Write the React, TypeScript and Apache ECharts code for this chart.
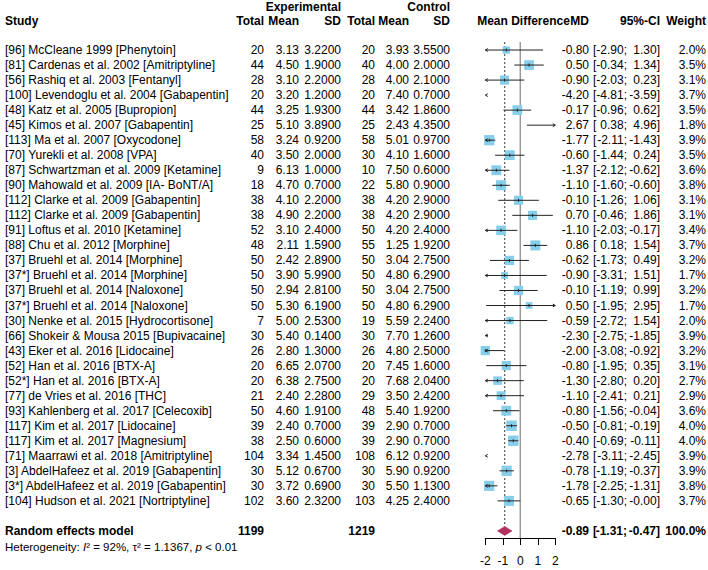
import React, { useEffect, useRef } from "react";
import * as echarts from "echarts";

// ---------------- data ----------------
const studyLabels = [
  "[96] McCleane 1999 [Phenytoin]",
  "[81] Cardenas et al. 2002 [Amitriptyline]",
  "[56] Rashiq et al. 2003 [Fentanyl]",
  "[100] Levendoglu et al. 2004 [Gabapentin]",
  "[48] Katz et al. 2005 [Bupropion]",
  "[45] Kimos et al. 2007 [Gabapentin]",
  "[113] Ma et al. 2007 [Oxycodone]",
  "[70] Yurekli et al. 2008 [VPA]",
  "[87] Schwartzman et al. 2009 [Ketamine]",
  "[90] Mahowald et al. 2009 [IA- BoNT/A]",
  "[112] Clarke et al. 2009 [Gabapentin]",
  "[112] Clarke et al. 2009 [Gabapentin]",
  "[91] Loftus et al. 2010 [Ketamine]",
  "[88] Chu et al. 2012 [Morphine]",
  "[37] Bruehl et al. 2014 [Morphine]",
  "[37*] Bruehl et al. 2014 [Morphine]",
  "[37] Bruehl et al. 2014 [Naloxone]",
  "[37*] Bruehl et al. 2014 [Naloxone]",
  "[30] Nenke et al. 2015 [Hydrocortisone]",
  "[66] Shokeir & Mousa 2015 [Bupivacaine]",
  "[43] Eker et al. 2016 [Lidocaine]",
  "[52] Han et al. 2016 [BTX-A]",
  "[52*] Han et al. 2016 [BTX-A]",
  "[77] de Vries et al. 2016 [THC]",
  "[93] Kahlenberg et al. 2017 [Celecoxib]",
  "[117] Kim et al. 2017 [Lidocaine]",
  "[117] Kim et al. 2017 [Magnesium]",
  "[71] Maarrawi et al. 2018 [Amitriptyline]",
  "[3] AbdelHafeez et al. 2019 [Gabapentin]",
  "[3*] AbdelHafeez et al. 2019 [Gabapentin]",
  "[104] Hudson et al. 2021 [Nortriptyline]",
];
const expTotal = [20, 44, 28, 20, 44, 25, 58, 40, 9, 18, 38, 38, 52, 48, 50, 50, 50, 50, 7, 30, 26, 20, 20, 21, 50, 39, 38, 104, 30, 30, 102];
const expMean = [3.13, 4.5, 3.1, 3.2, 3.25, 5.1, 3.24, 3.5, 6.13, 4.7, 4.1, 4.9, 3.1, 2.11, 2.42, 3.9, 2.94, 5.3, 5.0, 5.4, 2.8, 6.65, 6.38, 2.4, 4.6, 2.4, 2.5, 3.34, 5.12, 3.72, 3.6];
const expSD = [3.22, 1.9, 2.2, 1.2, 1.93, 3.89, 0.92, 2.0, 1.0, 0.7, 2.2, 2.2, 2.4, 1.59, 2.89, 5.99, 2.81, 6.19, 2.53, 0.14, 1.3, 2.07, 2.75, 2.28, 1.91, 0.7, 0.6, 1.45, 0.67, 0.69, 2.32];
const ctrlTotal = [20, 40, 28, 20, 44, 25, 58, 30, 10, 22, 38, 38, 50, 55, 50, 50, 50, 50, 19, 30, 26, 20, 20, 29, 48, 39, 39, 108, 30, 30, 103];
const ctrlMean = [3.93, 4.0, 4.0, 7.4, 3.42, 2.43, 5.01, 4.1, 7.5, 5.8, 4.2, 4.2, 4.2, 1.25, 3.04, 4.8, 3.04, 4.8, 5.59, 7.7, 4.8, 7.45, 7.68, 3.5, 5.4, 2.9, 2.9, 6.12, 5.9, 5.5, 4.25];
const ctrlSD = [3.55, 2.0, 2.1, 0.7, 1.86, 4.35, 0.97, 1.6, 0.6, 0.9, 2.9, 2.9, 2.4, 1.92, 2.75, 6.29, 2.75, 6.29, 2.24, 1.26, 2.5, 1.6, 2.04, 2.42, 1.92, 0.7, 0.7, 0.92, 0.92, 1.13, 2.4];
const meanDiff = [-0.8, 0.5, -0.9, -4.2, -0.17, 2.67, -1.77, -0.6, -1.37, -1.1, -0.1, 0.7, -1.1, 0.86, -0.62, -0.9, -0.1, 0.5, -0.59, -2.3, -2.0, -0.8, -1.3, -1.1, -0.8, -0.5, -0.4, -2.78, -0.78, -1.78, -0.65];
const ciLower = [-2.9, -0.34, -2.03, -4.81, -0.96, 0.38, -2.11, -1.44, -2.12, -1.6, -1.26, -0.46, -2.03, 0.18, -1.73, -3.31, -1.19, -1.95, -2.72, -2.75, -3.08, -1.95, -2.8, -2.41, -1.56, -0.81, -0.69, -3.11, -1.19, -2.25, -1.3];
const ciUpper = [1.3, 1.34, 0.23, -3.59, 0.62, 4.96, -1.43, 0.24, -0.62, -0.6, 1.06, 1.86, -0.17, 1.54, 0.49, 1.51, 0.99, 2.95, 1.54, -1.85, -0.92, 0.35, 0.2, 0.21, -0.04, -0.19, -0.11, -2.45, -0.37, -1.31, -0];
const weights = [2.0, 3.5, 3.1, 3.7, 3.5, 1.8, 3.9, 3.5, 3.6, 3.8, 3.1, 3.1, 3.4, 3.7, 3.2, 1.7, 3.2, 1.7, 2.0, 3.9, 3.2, 3.1, 2.7, 2.9, 3.6, 4.0, 4.0, 3.9, 3.9, 3.8, 3.7];

const pooledLabel = "Random effects model";
const pooledExpTotal = 1199;
const pooledCtrlTotal = 1219;
const pooledMD = -0.89;
const pooledLower = -1.31;
const pooledUpper = -0.47;
const pooledWeight = 100.0;
const hetI2 = "92%";
const hetTau2 = "1.1367";
const hetP = "< 0.01";

const xMin = -2;
const xMax = 2;
const xInterval = 1;

// ---------------- layout / style ----------------
const FONT = "'Liberation Sans', Arial, Helvetica, sans-serif";
const FS = 12;
const Y_MAX = 33.47;
const POOLED_ROW = studyLabels.length + 2;
const COL = {
  study: 5,
  eTot: 264,
  eMean: 299,
  eSD: 341,
  cTot: 375,
  cMean: 409,
  cSD: 450,
  md: 589,
  ciOpen: 593,
  ciLo: 627,
  ciHi: 660,
  w: 706,
};
const SQUARE = "#87CEEB";
const DIAMOND = "#B03060";

const fmt = (v: number, d: number) => (Object.is(v, -0) ? "-" : "") + v.toFixed(d);

const txt = (
  text: string,
  x: number,
  y: number,
  align: string,
  bold = false,
  size = FS
) => ({
  type: "text",
  x,
  y,
  silent: true,
  style: {
    text,
    fill: "#000",
    fontSize: size,
    fontFamily: FONT,
    fontWeight: bold ? "bold" : "normal",
    align,
    verticalAlign: "middle",
    textAlign: align,
    textVerticalAlign: "middle",
  },
});

const rowTexts = (
  y: number,
  label: string,
  eTot: string,
  eMean: string,
  eSD: string,
  cTot: string,
  cMean: string,
  cSD: string,
  mdv: number,
  lo: number,
  hi: number,
  w: string,
  bold: boolean
) => [
  txt(label, COL.study, y, "left", bold),
  txt(eTot, COL.eTot, y, "right", bold),
  txt(eMean, COL.eMean, y, "right", bold),
  txt(eSD, COL.eSD, y, "right", bold),
  txt(cTot, COL.cTot, y, "right", bold),
  txt(cMean, COL.cMean, y, "right", bold),
  txt(cSD, COL.cSD, y, "right", bold),
  txt(fmt(mdv, 2), COL.md, y, "right", bold),
  txt("[", COL.ciOpen, y, "left", bold),
  txt(fmt(lo, 2) + ";", COL.ciLo, y, "right", bold),
  txt(fmt(hi, 2) + "]", COL.ciHi, y, "right", bold),
  txt(w, COL.w, y, "right", bold),
];

function buildOption(): any {
  const rows = studyLabels.map((_, i) => i + 1);

  const headerEls = [
    txt("Experimental", COL.eSD, 7, "right", true),
    txt("Control", COL.cSD, 7, "right", true),
    txt("Study", COL.study, 21, "left", true),
    txt("Total", COL.eTot, 21, "right", true),
    txt("Mean", COL.eMean, 21, "right", true),
    txt("SD", COL.eSD, 21, "right", true),
    txt("Total", COL.cTot, 21, "right", true),
    txt("Mean", COL.cMean, 21, "right", true),
    txt("SD", COL.cSD, 21, "right", true),
    txt("Mean Difference", 523.5, 21, "center", true),
    txt("MD", COL.md, 21, "right", true),
    txt("95%-CI", COL.ciHi, 21, "right", true),
    txt("Weight", COL.w, 21, "right", true),
    {
      type: "text",
      x: COL.study,
      y: 547,
      silent: true,
      style: {
        text: `Heterogeneity: {it|I}² = ${hetI2}, τ² = ${hetTau2}, {it|p} ${hetP}`,
        fill: "#000",
        fontSize: 11.5,
        fontFamily: FONT,
        verticalAlign: "middle",
        textVerticalAlign: "middle",
        rich: {
          it: { fontStyle: "italic", fontSize: 11.5, fontFamily: FONT, fill: "#000" },
        },
      },
    },
  ];

  return {
    animation: false,
    backgroundColor: "#fff",
    grid: { left: 485.3, right: 708 - 555.3, top: 35, bottom: 32, containLabel: false },
    xAxis: {
      type: "value",
      min: xMin,
      max: xMax,
      interval: xInterval,
      axisLine: { show: true, onZero: false, lineStyle: { color: "#000", width: 1 } },
      axisTick: { show: true, length: 7, lineStyle: { color: "#000", width: 1 } },
      axisLabel: { color: "#000", fontSize: FS, fontFamily: FONT, margin: 17 },
      splitLine: { show: false },
    },
    yAxis: { type: "value", min: 0, max: Y_MAX, inverse: true, show: false },
    graphic: { elements: headerEls },
    series: [
      {
        type: "custom",
        name: "refs",
        coordinateSystem: "cartesian2d",
        silent: true,
        clip: false,
        z: 1,
        data: [[0, pooledMD]],
        renderItem: (_p: any, api: any) => {
          const zero = api.value(0);
          const pm = api.value(1);
          const top = api.coord([zero, 0.47])[1];
          const bottom = api.coord([zero, Y_MAX])[1];
          const dBottom = api.coord([zero, POOLED_ROW - 0.3])[1];
          const x0 = api.coord([zero, 0])[0];
          const xp = api.coord([pm, 0])[0];
          return {
            type: "group",
            children: [
              { type: "line", shape: { x1: x0, y1: top, x2: x0, y2: bottom }, style: { stroke: "#9a9a9a", lineWidth: 1.5 } },
              { type: "line", shape: { x1: xp, y1: top, x2: xp, y2: dBottom }, style: { stroke: "#333", lineWidth: 1, lineDash: [2, 2] } },
            ],
          };
        },
      },
      {
        type: "custom",
        name: "studies",
        coordinateSystem: "cartesian2d",
        silent: true,
        clip: false,
        z: 3,
        data: rows.map((r, i) => [meanDiff[i], ciLower[i], ciUpper[i], weights[i], r]),
        renderItem: (_p: any, api: any) => {
          const est = api.value(0);
          const lo = api.value(1);
          const hi = api.value(2);
          const w = api.value(3);
          const row = api.value(4);
          const y = api.coord([0, row])[1];
          const children: any[] = [];
          if (est >= xMin && est <= xMax) {
            const side = 5.2 * Math.sqrt(w);
            const cx = api.coord([est, row])[0];
            children.push({
              type: "rect",
              shape: { x: cx - side / 2, y: y - side / 2, width: side, height: side },
              style: { fill: SQUARE },
            });
          }
          const cl = Math.max(lo, xMin);
          const ch = Math.min(hi, xMax);
          const pl = api.coord([cl, row])[0];
          const ph = api.coord([ch, row])[0];
          if (ch > cl) {
            children.push({ type: "line", shape: { x1: pl, y1: y, x2: ph, y2: y }, style: { stroke: "#222", lineWidth: 1 } });
          }
          if (lo < xMin) {
            const p = api.coord([xMin, row])[0];
            children.push({ type: "polyline", shape: { points: [[p + 2.5, y - 1.4], [p, y], [p + 2.5, y + 1.4]] }, style: { stroke: "#222", lineWidth: 1, fill: null } });
          }
          if (hi > xMax) {
            const p = api.coord([xMax, row])[0];
            children.push({ type: "polyline", shape: { points: [[p - 2.5, y - 1.4], [p, y], [p - 2.5, y + 1.4]] }, style: { stroke: "#222", lineWidth: 1, fill: null } });
          }
          if (est >= xMin && est <= xMax) {
            const cx = api.coord([est, row])[0];
            children.push({ type: "line", shape: { x1: cx, y1: y - 1.5, x2: cx, y2: y + 1.5 }, style: { stroke: "#222", lineWidth: 1 } });
          }
          return { type: "group", children };
        },
      },
      {
        type: "custom",
        name: "pooled",
        coordinateSystem: "cartesian2d",
        silent: true,
        clip: false,
        z: 4,
        data: [[pooledMD, pooledLower, pooledUpper, POOLED_ROW]],
        renderItem: (_p: any, api: any) => {
          const est = api.value(0);
          const lo = api.value(1);
          const hi = api.value(2);
          const row = api.value(3);
          const y = api.coord([0, row])[1];
          const xe = api.coord([est, row])[0];
          const xl = api.coord([lo, row])[0];
          const xh = api.coord([hi, row])[0];
          const h = 4.5;
          return {
            type: "group",
            children: [
              {
                type: "polygon",
                shape: { points: [[xl, y], [xe, y - h], [xh, y], [xe, y + h]] },
                style: { fill: DIAMOND, stroke: DIAMOND, lineWidth: 0.5 },
              },
              ...rowTexts(
                y,
                pooledLabel,
                String(pooledExpTotal),
                "",
                "",
                String(pooledCtrlTotal),
                "",
                "",
                est,
                lo,
                hi,
                pooledWeight.toFixed(1) + "%",
                true
              ),
            ],
          };
        },
      },
      {
        type: "custom",
        name: "table",
        coordinateSystem: "cartesian2d",
        silent: true,
        clip: false,
        z: 2,
        data: rows.map((r) => [0, r]),
        renderItem: (p: any, api: any) => {
          const i = p.dataIndex;
          const y = api.coord([0, api.value(1)])[1];
          return {
            type: "group",
            children: rowTexts(
              y,
              studyLabels[i],
              String(expTotal[i]),
              expMean[i].toFixed(2),
              expSD[i].toFixed(4),
              String(ctrlTotal[i]),
              ctrlMean[i].toFixed(2),
              ctrlSD[i].toFixed(4),
              meanDiff[i],
              ciLower[i],
              ciUpper[i],
              weights[i].toFixed(1) + "%",
              false
            ),
          };
        },
      },
    ],
  };
}

export default function App() {
  const ref = useRef<HTMLDivElement>(null);
  useEffect(() => {
    if (!ref.current) return;
    const chart = echarts.init(ref.current, null, { renderer: "svg" });
    chart.setOption(buildOption());
    return () => chart.dispose();
  }, []);
  return (
    <div
      ref={ref}
      style={{ position: "absolute", left: 0, top: 0, width: 708, height: 570, background: "#fff" }}
    />
  );
}
